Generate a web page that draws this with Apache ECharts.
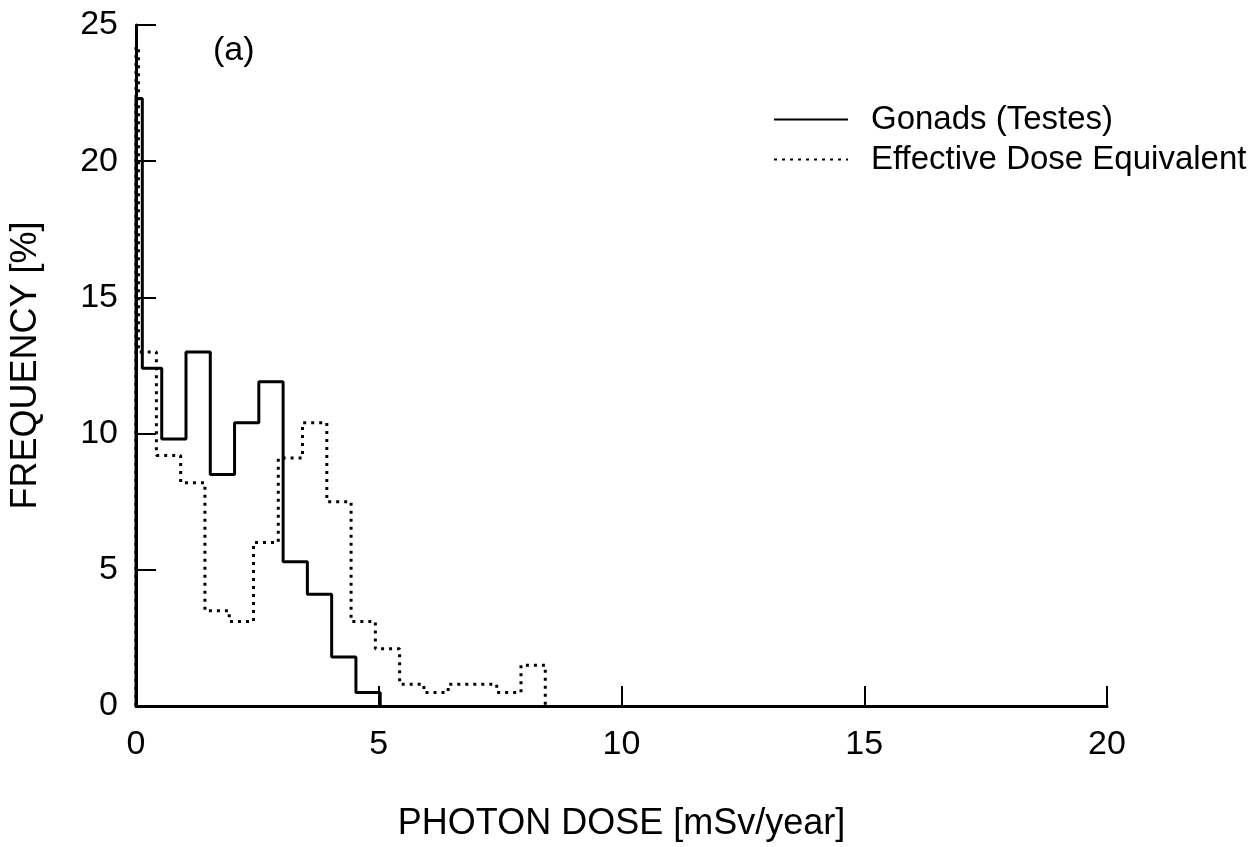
<!DOCTYPE html>
<html>
<head>
<meta charset="utf-8">
<script src="https://cdn.jsdelivr.net/npm/echarts@6/dist/echarts.min.js"></script>
<style>
html,body{margin:0;padding:0;background:#fff;}
#chart{width:1257px;height:847px;}
</style>
</head>
<body>
<div id="chart"></div>
<script>
// Bin edges (mSv/year) and frequencies (%)
const gonadsEdges = [0, 0.13, 0.53, 1.03, 1.53, 2.03, 2.53, 3.03, 3.53, 4.03, 4.53, 5.03];
const gonadsValues = [22.3, 12.4, 9.8, 13.0, 8.5, 10.4, 11.9, 5.3, 4.1, 1.8, 0.5];
const edeEdges = [0, 0.05, 0.42, 0.92, 1.42, 1.92, 2.42, 2.93, 3.43, 3.93, 4.43, 4.93, 5.43, 5.93, 6.43, 6.93, 7.43, 7.93, 8.43];
const edeValues = [24.2, 13.0, 9.2, 8.2, 3.5, 3.1, 6.0, 9.1, 10.4, 7.5, 3.1, 2.1, 0.8, 0.5, 0.8, 0.8, 0.5, 1.5];
const xTicks = [0, 5, 10, 15, 20];
const yTicks = [0, 5, 10, 15, 20, 25];
const seriesNames = ['Gonads (Testes)', 'Effective Dose Equivalent'];

function steps(edges, values) {
  const pts = [[edges[0], 0]];
  for (let i = 0; i < values.length; i++) {
    pts.push([edges[i], values[i]]);
    pts.push([edges[i + 1], values[i]]);
  }
  pts.push([edges[edges.length - 1], 0]);
  return pts;
}

const FONT = '"Liberation Sans", Arial, Helvetica, sans-serif';

function legendFor(name, top) {
  return {
    orient: 'vertical',
    left: 768,
    top: top,
    itemWidth: 74,
    itemHeight: 14,
    data: [name],
    itemStyle: { opacity: 0 },
    textStyle: { fontFamily: FONT, fontSize: 33, color: '#000', padding: [0, 0, 0, 18] },
    selectedMode: false
  };
}

const chart = echarts.init(document.getElementById('chart'));
chart.setOption({
  animation: false,
  backgroundColor: '#fff',
  grid: { left: 135, right: 150, top: 25, bottom: 134, containLabel: false },
  textStyle: { fontFamily: FONT, color: '#000' },
  legend: [legendFor(seriesNames[0], 98), legendFor(seriesNames[1], 138)],
  graphic: [{
    type: 'text',
    left: 213,
    top: 34,
    style: { text: '(a)', font: '34px ' + FONT, fill: '#000' }
  }],
  xAxis: {
    type: 'value',
    min: xTicks[0],
    max: xTicks[xTicks.length - 1],
    interval: 5,
    name: 'PHOTON DOSE [mSv/year]',
    nameLocation: 'middle',
    nameGap: 100,
    nameTextStyle: { fontFamily: FONT, fontSize: 36, color: '#000' },
    axisLine: { show: true, lineStyle: { color: '#000', width: 3 } },
    axisTick: { show: true, inside: true, length: 20, lineStyle: { color: '#000', width: 2 } },
    axisLabel: { fontFamily: FONT, fontSize: 34, color: '#000', margin: 22 },
    splitLine: { show: false }
  },
  yAxis: {
    type: 'value',
    min: yTicks[0],
    max: yTicks[yTicks.length - 1],
    interval: 5,
    name: 'FREQUENCY [%]',
    nameLocation: 'middle',
    nameGap: 92,
    nameRotate: 90,
    nameTextStyle: { fontFamily: FONT, fontSize: 36, color: '#000' },
    axisLine: { show: true, lineStyle: { color: '#000', width: 3 } },
    axisTick: { show: true, inside: true, length: 20, lineStyle: { color: '#000', width: 2 } },
    axisLabel: { fontFamily: FONT, fontSize: 34, color: '#000', margin: 18 },
    splitLine: { show: false }
  },
  series: [
    {
      name: seriesNames[0],
      type: 'line',
      data: steps(gonadsEdges, gonadsValues),
      symbol: 'none',
      lineStyle: { color: '#000', width: 3, type: 'solid' },
      itemStyle: { color: '#000' }
    },
    {
      name: seriesNames[1],
      type: 'line',
      data: steps(edeEdges, edeValues),
      symbol: 'none',
      lineStyle: { color: '#000', width: 3, type: [3, 5] },
      itemStyle: { color: '#000' }
    }
  ]
});
</script>
</body>
</html>
